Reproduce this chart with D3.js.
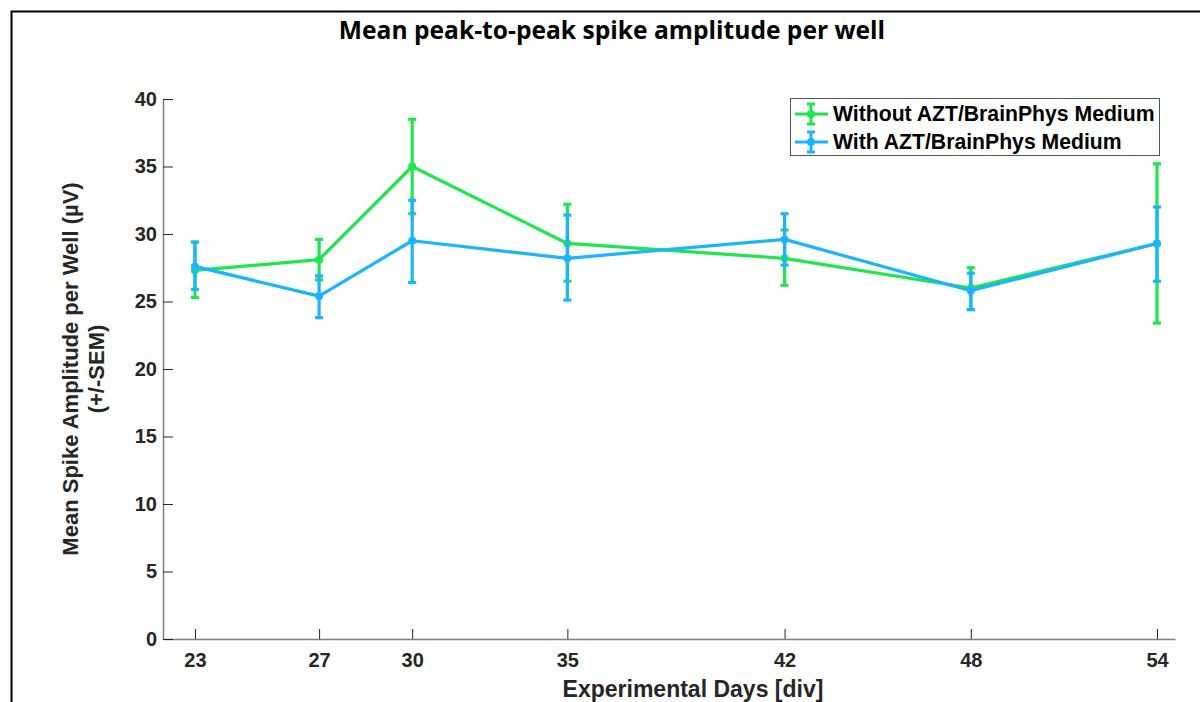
<!DOCTYPE html>
<html><head><meta charset="utf-8">
<script src="https://cdn.jsdelivr.net/npm/d3@7"></script>
<style>body{margin:0;background:#fff}svg{display:block}</style>
</head><body>
<svg id="c" width="1200" height="702"></svg>
<script>
const days = [23, 27, 30, 35, 42, 48, 54];
const seriesNames = ["Without AZT/BrainPhys Medium", "With AZT/BrainPhys Medium"];
const withoutMean = [27.3, 28.1, 35.0, 29.3, 28.2, 26.0, 29.3];
const withoutLow  = [25.3, 26.6, 31.5, 26.5, 26.2, 24.4, 23.4];
const withoutHigh = [29.4, 29.6, 38.5, 32.2, 30.3, 27.5, 35.2];
const withMean = [27.6, 25.4, 29.5, 28.2, 29.6, 25.8, 29.3];
const withLow  = [25.9, 23.8, 26.4, 25.1, 27.7, 24.4, 26.5];
const withHigh = [29.4, 26.9, 32.5, 31.4, 31.5, 27.1, 32.0];
const yTicks = [0, 5, 10, 15, 20, 25, 30, 35, 40];
const colors = ["#1fe64e", "#1db4ff"];

const svg = d3.select("#c");
svg.append("path").attr("d","M11.5,702 V11.5 H1200").attr("fill","none").attr("stroke","#000").attr("stroke-width",2);

const x = d3.scaleLinear().domain([21.97, 54.58]).range([163, 1175]);
const y = d3.scaleLinear().domain([0, 40]).range([639, 99]);

const font = "'Liberation Sans', Arial, sans-serif";

const xAxis = svg.append("g").attr("transform","translate(0,639)")
  .call(d3.axisBottom(x).tickValues(days).tickSizeInner(-10).tickSizeOuter(0).tickPadding(14));
const yAxis = svg.append("g").attr("transform","translate(163,0)")
  .call(d3.axisLeft(y).tickValues(yTicks).tickSizeInner(-10).tickSizeOuter(0).tickPadding(6));
[xAxis, yAxis].forEach(g => {
  g.select(".domain").attr("stroke","#808080").attr("stroke-width",1.5);
  g.selectAll(".tick line").attr("stroke","#262626").attr("stroke-width",1);
  g.selectAll(".tick text").attr("fill","#262626").attr("font-family",font)
    .attr("font-weight","bold").attr("font-size",20);
});

svg.append("text").attr("x",612).attr("y",39).attr("text-anchor","middle")
  .attr("font-family","'Open Sans', 'Noto Sans', sans-serif").attr("font-weight","bold")
  .attr("font-size",24.6).attr("fill","#000")
  .text("Mean peak-to-peak spike amplitude per well");
svg.append("text").attr("x",693).attr("y",697).attr("text-anchor","middle")
  .attr("font-family",font).attr("font-weight","bold").attr("font-size",23).attr("fill","#262626")
  .text("Experimental Days [div]");
const yl = svg.append("text").attr("transform","translate(78,369) rotate(-90)")
  .attr("text-anchor","middle").attr("font-family",font).attr("font-weight","bold")
  .attr("font-size",22).attr("fill","#262626");
yl.append("tspan").attr("x",0).attr("dy",0).text("Mean Spike Amplitude per Well (µV)");
yl.append("tspan").attr("x",0).attr("dy",26).text("(+/-SEM)");

const data = [
  {name: seriesNames[0], mean: withoutMean, lo: withoutLow, hi: withoutHigh, color: colors[0]},
  {name: seriesNames[1], mean: withMean, lo: withLow, hi: withHigh, color: colors[1]}
];

const line = d3.line().x(d => x(d.d)).y(d => y(d.v));
data.forEach(s => {
  const g = svg.append("g");
  const pts = days.map((d,i) => ({d, v: s.mean[i], lo: s.lo[i], hi: s.hi[i]}));
  g.append("path").datum(pts).attr("d", line).attr("fill","none")
    .attr("stroke", s.color).attr("stroke-width",3.2).attr("stroke-linejoin","round");
  const eb = g.selectAll(".eb").data(pts).join("g");
  eb.append("line").attr("x1",d=>x(d.d)).attr("x2",d=>x(d.d)).attr("y1",d=>y(d.lo)).attr("y2",d=>y(d.hi))
    .attr("stroke", s.color).attr("stroke-width",3.2);
  eb.append("line").attr("x1",d=>x(d.d)-4).attr("x2",d=>x(d.d)+4).attr("y1",d=>y(d.lo)).attr("y2",d=>y(d.lo))
    .attr("stroke", s.color).attr("stroke-width",3.2);
  eb.append("line").attr("x1",d=>x(d.d)-4).attr("x2",d=>x(d.d)+4).attr("y1",d=>y(d.hi)).attr("y2",d=>y(d.hi))
    .attr("stroke", s.color).attr("stroke-width",3.2);
  eb.append("circle").attr("cx",d=>x(d.d)).attr("cy",d=>y(d.v)).attr("r",4).attr("fill", s.color);
});

const lg = svg.append("g");
lg.append("rect").attr("x",790.5).attr("y",98.5).attr("width",369).attr("height",57)
  .attr("fill","#fff").attr("stroke","#555").attr("stroke-width",1);
data.forEach((s,i) => {
  const cy = 114 + i*28;
  const cx = 811;
  lg.append("line").attr("x1",795).attr("x2",828).attr("y1",cy).attr("y2",cy).attr("stroke",s.color).attr("stroke-width",3);
  lg.append("line").attr("x1",cx).attr("x2",cx).attr("y1",cy-10).attr("y2",cy+10).attr("stroke",s.color).attr("stroke-width",3);
  lg.append("line").attr("x1",cx-4).attr("x2",cx+4).attr("y1",cy-10).attr("y2",cy-10).attr("stroke",s.color).attr("stroke-width",3);
  lg.append("line").attr("x1",cx-4).attr("x2",cx+4).attr("y1",cy+10).attr("y2",cy+10).attr("stroke",s.color).attr("stroke-width",3);
  lg.append("circle").attr("cx",cx).attr("cy",cy).attr("r",4).attr("fill",s.color);
  lg.append("text").attr("x",833).attr("y",cy+7).attr("font-family",font).attr("font-weight","bold")
    .attr("font-size",21.2).attr("fill","#000").text(s.name);
});
</script>
</body></html>
